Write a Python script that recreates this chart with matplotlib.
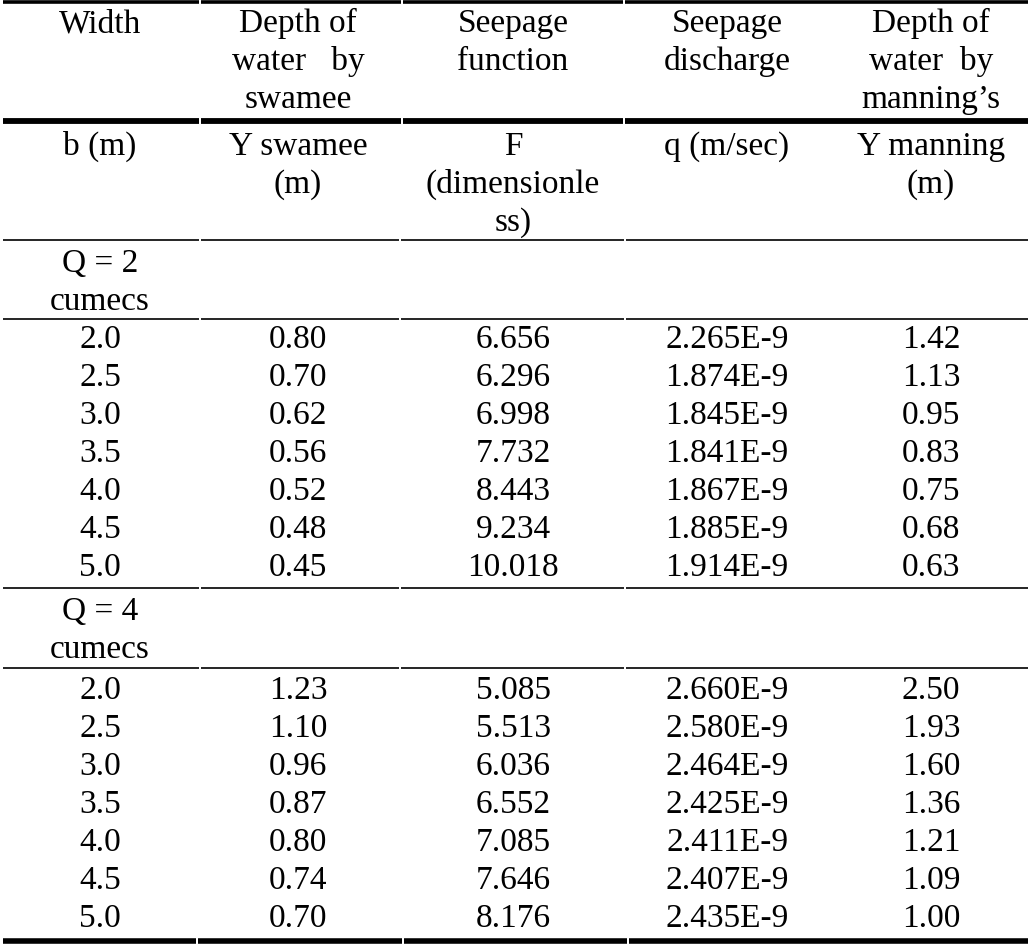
import matplotlib.pyplot as plt

# === Table data ===
widths = ["2.0", "2.5", "3.0", "3.5", "4.0", "4.5", "5.0"]

y_swamee_q2 = ["0.80", "0.70", "0.62", "0.56", "0.52", "0.48", "0.45"]
seepage_f_q2 = ["6.656", "6.296", "6.998", "7.732", "8.443", "9.234", "10.018"]
seepage_q_q2 = ["2.265E-9", "1.874E-9", "1.845E-9", "1.841E-9", "1.867E-9", "1.885E-9", "1.914E-9"]
y_manning_q2 = ["1.42", "1.13", "0.95", "0.83", "0.75", "0.68", "0.63"]

y_swamee_q4 = ["1.23", "1.10", "0.96", "0.87", "0.80", "0.74", "0.70"]
seepage_f_q4 = ["5.085", "5.513", "6.036", "6.552", "7.085", "7.646", "8.176"]
seepage_q_q4 = ["2.660E-9", "2.580E-9", "2.464E-9", "2.425E-9", "2.411E-9", "2.407E-9", "2.435E-9"]
y_manning_q4 = ["2.50", "1.93", "1.60", "1.36", "1.21", "1.09", "1.00"]

header_top = [["Width"],
              ["Depth of", "water   by", "swamee"],
              ["Seepage", "function"],
              ["Seepage", "discharge"],
              ["Depth of", "water  by", "manning\u2019s"]]
header_units = [["b (m)"],
                ["Y swamee", "(m)"],
                ["F", "(dimensionle", "ss)"],
                ["q (m/sec)"],
                ["Y manning", "(m)"]]
group_labels = [["Q = 2", "cumecs"], ["Q = 4", "cumecs"]]

plt.rcParams['font.family'] = 'serif'
plt.rcParams['font.serif'] = ['Liberation Serif', 'DejaVu Serif']

# === Layout (pixel coordinates) ===
W, H = 1028, 947
col_x = [100, 298, 513, 727, 931]
line_h = 38
fs = 24

fig = plt.figure(figsize=(W / 100, H / 100), dpi=100)
ax = fig.add_axes([0, 0, 1, 1])
ax.set_xlim(0, W)
ax.set_ylim(H, 0)
ax.axis("off")

def put(x, y, s):
    ax.text(x, y, s, ha="center", va="baseline", fontsize=fs, color="black")

def hline(y, lw, gaps):
    edges = [3] + gaps + [W]
    for i in range(len(edges) - 1):
        x0 = edges[i] + (0.7 if i > 0 else 0)
        x1 = edges[i + 1] - 0.7 if i < len(edges) - 2 else edges[i + 1]
        ax.plot([x0, x1], [y, y], color="black", lw=lw, solid_capstyle="butt")

# header text
for cx, lines in zip(col_x, header_top):
    for k, s in enumerate(lines):
        put(cx, 32 + k * line_h, s)
for cx, lines in zip(col_x, header_units):
    for k, s in enumerate(lines):
        put(cx, 155 + k * line_h, s)

# groups
groups = [(y_swamee_q2, seepage_f_q2, seepage_q_q2, y_manning_q2),
          (y_swamee_q4, seepage_f_q4, seepage_q_q4, y_manning_q4)]
group_base = [272, 620]
for g, (cols, gb) in enumerate(zip(groups, group_base)):
    put(col_x[0], gb, group_labels[g][0])
    put(col_x[0], gb + line_h, group_labels[g][1])
    first = gb + 76 if g == 0 else gb + 79
    for r in range(len(widths)):
        y = first + r * line_h
        put(col_x[0], y, widths[r])
        for c, vals in enumerate(cols):
            put(col_x[c + 1], y, vals[r])

# rules
hline(1.5, 2.6, [200, 402, 624])
hline(121, 4.2, [200, 402, 624])
hline(240, 1.2, [200, 400, 625])
hline(318.5, 1.2, [200, 400, 625])
hline(587.5, 1.2, [200, 400, 625])
hline(667.5, 1.2, [200, 400, 625])
hline(940.5, 4.0, [197, 403, 628])

fig.savefig("out.png", dpi=100)
